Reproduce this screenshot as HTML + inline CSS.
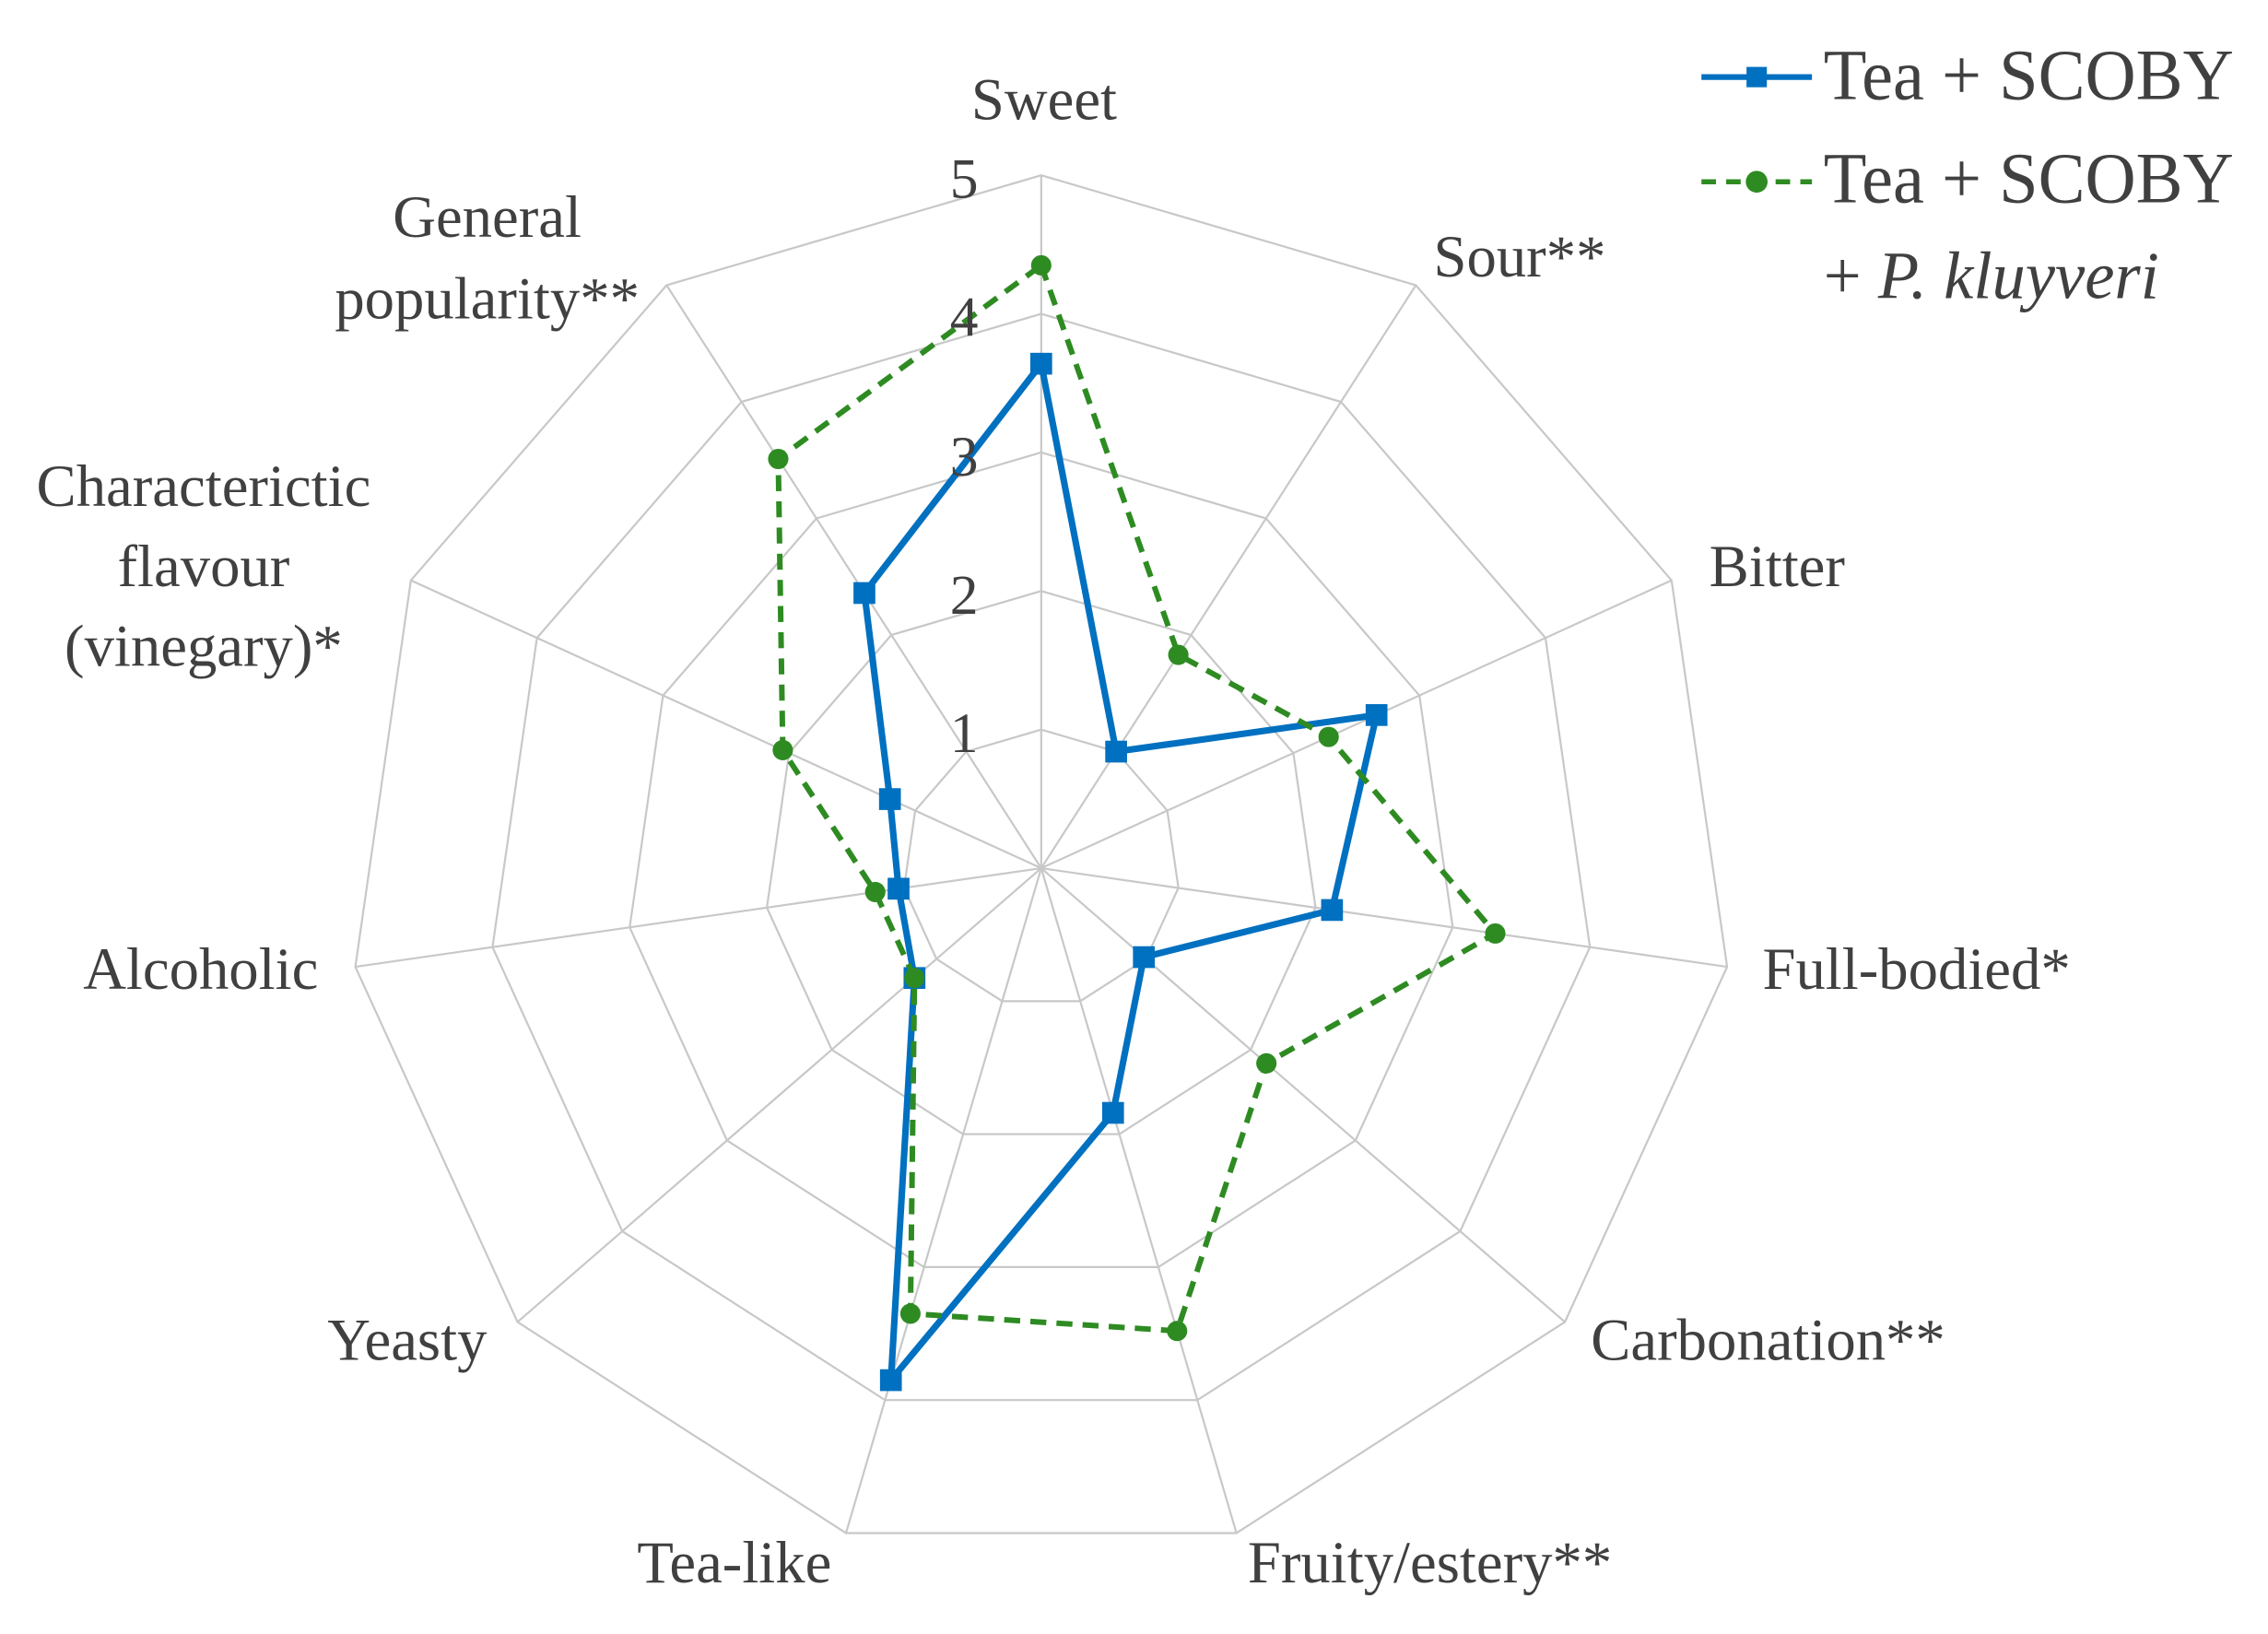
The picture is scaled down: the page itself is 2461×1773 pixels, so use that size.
<!DOCTYPE html>
<html><head><meta charset="utf-8"><style>
html,body{margin:0;padding:0;background:#fff;}
svg{display:block;}
text{font-family:"Liberation Serif",serif;fill:#404040;}
</style></head><body>
<svg id="s" width="2461" height="1773" viewBox="0 0 1559.6 1123.6" xmlns="http://www.w3.org/2000/svg">
<g id="grid" stroke="#c8c8c8" stroke-width="1.4" fill="none"></g>
<g id="series"></g>
<g font-size="39" text-anchor="middle">
<text x="663" y="136">5</text>
<text x="663" y="231">4</text>
<text x="663" y="327">3</text>
<text x="663" y="422">2</text>
<text x="663" y="517">1</text>
</g>
<g font-size="41">
<text x="718" y="82" text-anchor="middle">Sweet</text>
<text x="1045" y="190" text-anchor="middle">Sour**</text>
<text x="1222" y="403" text-anchor="middle">Bitter</text>
<text x="1212" y="680">Full-bodied*</text>
<text x="1094" y="935">Carbonation**</text>
<text x="858" y="1088">Fruity/estery**</text>
<text x="505" y="1088" text-anchor="middle">Tea-like</text>
<text x="280" y="935" text-anchor="middle">Yeasty</text>
<text x="138" y="680" text-anchor="middle">Alcoholic</text>
<text x="140" y="348" text-anchor="middle">Characterictic</text>
<text x="140" y="403" text-anchor="middle">flavour</text>
<text x="140" y="458" text-anchor="middle">(vinegary)*</text>
<text x="335" y="163" text-anchor="middle">General</text>
<text x="335" y="219" text-anchor="middle">popularity**</text>
</g>
<g>
<line x1="1170" y1="53" x2="1246" y2="53" stroke="#0070C0" stroke-width="4"/>
<rect x="1201" y="46" width="14" height="14" fill="#0070C0"/>
<line x1="1170" y1="125" x2="1246" y2="125" stroke="#2E8B22" stroke-width="3.5" stroke-dasharray="10,7"/>
<circle cx="1208" cy="125" r="7.5" fill="#2E8B22"/>
<text x="1254" y="68" font-size="50" textLength="282" lengthAdjust="spacingAndGlyphs" fill="#505050">Tea + SCOBY</text>
<text x="1254" y="139" font-size="50" textLength="282" lengthAdjust="spacingAndGlyphs" fill="#505050">Tea + SCOBY</text>
<text x="1254" y="205" font-size="46" fill="#606060">+ <tspan font-style="italic">P. kluyveri</tspan></text>
</g>
</svg>
<script>
var cx=716,cy=597,u=95.3,N=11,NS="http://www.w3.org/2000/svg";
function pt(k,v){var a=k*2*Math.PI/N;return [cx+u*v*Math.sin(a),cy-u*v*Math.cos(a)];}
var g=document.getElementById('grid');
function el(p,t,at){var e=document.createElementNS(NS,t);for(var k in at)e.setAttribute(k,at[k]);p.appendChild(e);return e;}
for(var r=1;r<=5;r++){var ps=[];for(var k=0;k<N;k++)ps.push(pt(k,r).join(','));el(g,'polygon',{points:ps.join(' ')});}
for(var k=0;k<N;k++){var p=pt(k,5);el(g,'line',{x1:cx,y1:cy,x2:p[0],y2:p[1]});}
var blue=[3.64,1.0,2.66,2.12,0.98,1.84,3.85,1.21,1.04,1.2,2.36];
var green=[4.35,1.83,2.28,3.31,2.15,3.48,3.35,1.21,1.21,2.05,3.51];
var s=document.getElementById('series');
function ser(d,col,dash,mk){var ps=[];for(var k=0;k<N;k++)ps.push(pt(k,d[k]));
 var at={points:ps.map(function(p){return p.join(',')}).join(' '),fill:'none',stroke:col,'stroke-width':dash?3.8:4.5,'stroke-linejoin':'round'};
 if(dash)at['stroke-dasharray']='11,7';el(s,'polygon',at);
 ps.forEach(function(p){if(mk=='sq')el(s,'rect',{x:p[0]-7.5,y:p[1]-7.5,width:15,height:15,fill:col});else el(s,'circle',{cx:p[0],cy:p[1],r:7,fill:col});});}
ser(blue,'#0070C0',false,'sq');
ser(green,'#2E8B22',true,'c');
</script>
</body></html>
